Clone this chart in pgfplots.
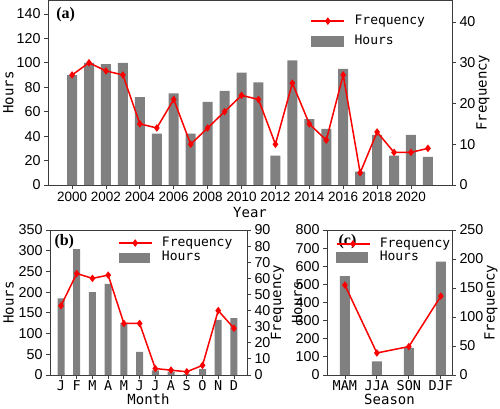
\documentclass[border=0pt]{standalone}
\usepackage{fontspec}
\setmainfont{DejaVu Sans Mono}
\newfontfamily\numfont{Liberation Sans}
\newfontfamily\tagfont{Liberation Serif}
\usepackage{pgfplots}
\pgfplotsset{compat=1.18}
\definecolor{bargray}{RGB}{128,128,128}
\definecolor{linered}{RGB}{250,0,0}
\definecolor{axgray}{RGB}{60,60,60}

\pgfplotstableread{
x h f
2000 90 27
2001 100 30
2002 99 28
2003 100 27
2004 72 15
2005 42 14
2006 75 21
2007 42 10
2008 68 14
2009 77 18
2010 92 22
2011 84 21
2012 24 10
2013 102 25
2014 54 15
2015 46 11
2016 95 27
2017 11 3
2018 41 13
2019 24 8
2020 41 8
2021 23 9
}\yeardata

\pgfplotstableread{
x h f
1 185 43
2 304 63
3 200 60
4 220 62
5 125 32
6 56 32
7 11 4
8 8 3
9 3 2
10 14 6
11 133 40
12 137 29
}\monthdata

\pgfplotstableread{
x h f
0 545 155
1 75 38
2 150 49
3 626 136
}\seasondata

\pgfplotsset{
  base/.style={
    scale only axis,
    axis line style={axgray, line width=0.8pt},
    tick style={axgray, line width=0.8pt},
    major tick length=4pt,
    tick align=outside,
    /pgf/number format/assume math mode=true,
    /pgf/number format/1000 sep={},
    yticklabel style={font=\fontsize{14.3}{14.3}\numfont},
    xticklabel style={font=\fontsize{13.5}{13.5}\numfont},
    label style={font=\fontsize{14}{14}\selectfont},
    scaled ticks=false,
  },
  leftax/.style={base, ytick pos=left, xtick pos=bottom},
  rightax/.style={base, hide x axis, axis y line*=right, ytick pos=right,
    legend style={draw=none, fill=none, inner sep=0pt, outer sep=0pt,
      font=\fontsize{13}{13}\selectfont, cells={anchor=west},
      nodes={inner sep=1.5pt, text height=9pt, text depth=2.5pt},
      /tikz/every odd column/.append style={column sep=8pt}}},
  barplot/.style={ybar, fill=bargray, draw=none},
  lineplot/.style={linered, line width=1.5pt, mark=diamond*, mark size=2.6pt,
    mark options={solid, fill=linered},
    legend image code/.code={\draw[##1, mark repeat=2, mark phase=2] plot coordinates {(0pt,0pt) (16.5pt,0pt) (33pt,0pt)};}},
}

\begin{document}
\begin{tikzpicture}
\useasboundingbox (0pt,0pt) rectangle (500pt,408pt);

% ---------- (a) ----------
\begin{axis}[leftax, at={(48pt,223pt)}, anchor=south west,
  width=404pt, height=185pt,
  xmin=1998.58, xmax=2022.42, ymin=0, ymax=151.5,
  xtick={2000,2002,...,2020}, ytick={0,20,...,140},
  xlabel={Year}, ylabel={Hours},
  xlabel style={at={(axis description cs:0.5,-0.146)}, anchor=center},
  ylabel style={at={(axis description cs:-0.098,0.5)}, anchor=center}]
\addplot[barplot, bar width=10pt] table[x=x,y=h] {\yeardata};
\node[anchor=north west, font=\fontsize{16}{16}\tagfont\bfseries] at (axis description cs:0.012,0.98) {(a)};
\end{axis}
\begin{axis}[rightax, at={(48pt,223pt)}, anchor=south west,
  width=404pt, height=185pt,
  xmin=1998.58, xmax=2022.42, ymin=0, ymax=45.4,
  ytick={0,10,...,40}, ylabel={Frequency},
  ylabel style={at={(axis description cs:1.077,0.5)}, anchor=center},
  legend style={at={(axis description cs:0.65,0.925)}, anchor=north west, row sep=6pt}]
\addplot[lineplot] table[x=x,y=f] {\yeardata};
\addlegendentry{Frequency}
\addlegendimage{legend image code/.code={\fill[bargray] (0pt,-5pt) rectangle (32pt,5pt);}}
\addlegendentry{Hours}
\end{axis}

% ---------- (b) ----------
\begin{axis}[leftax, at={(50pt,33pt)}, anchor=south west,
  width=197pt, height=145pt,
  xmin=0.3, xmax=12.83, ymin=0, ymax=350,
  xtick={1,...,12}, xticklabels={J,F,M,A,M,J,J,A,S,O,N,D},
  xticklabel style={font=\fontsize{13.5}{13.5}\selectfont, inner sep=1pt},
  ytick={0,50,...,350},
  xlabel={Month}, ylabel={Hours},
  xlabel style={at={(axis description cs:0.5,-0.168)}, anchor=center, inner sep=0pt},
  ylabel style={at={(axis description cs:-0.21,0.5)}, anchor=center}]
\addplot[barplot, bar width=7pt] table[x=x,y=h] {\monthdata};
\node[anchor=north west, font=\fontsize{16}{16}\tagfont\bfseries] at (axis description cs:0.005,0.995) {(b)};
\end{axis}
\begin{axis}[rightax, at={(50pt,33pt)}, anchor=south west,
  width=197pt, height=145pt,
  xmin=0.3, xmax=12.83, ymin=0, ymax=90,
  ytick={0,10,...,90}, ylabel={Frequency},
  ylabel style={at={(axis description cs:1.155,0.5)}, anchor=center},
  legend style={at={(axis description cs:0.345,0.96)}, anchor=north west, row sep=0pt}]
\addplot[lineplot] table[x=x,y=f] {\monthdata};
\addlegendentry{Frequency}
\addlegendimage{legend image code/.code={\fill[bargray] (0pt,-4.5pt) rectangle (30pt,4.5pt);}}
\addlegendentry{Hours}
\end{axis}

% ---------- (c) ----------
\begin{axis}[leftax, at={(327pt,33pt)}, anchor=south west,
  width=125pt, height=145pt,
  xmin=-0.56, xmax=3.35, ymin=0, ymax=800,
  xtick={0,1,2,3}, xticklabels={MAM,JJA,SON,DJF},
  xticklabel style={font=\fontsize{13.5}{13.5}\selectfont, inner sep=1pt},
  ytick={0,100,...,800},
  xlabel={Season}, ylabel={Hours},
  xlabel style={at={(axis description cs:0.5,-0.168)}, anchor=center, inner sep=0pt},
  ylabel style={at={(axis description cs:-0.24,0.5)}, anchor=center}]
\addplot[barplot, bar width=10pt] table[x=x,y=h] {\seasondata};
\node[anchor=north west, font=\fontsize{16}{16}\tagfont\bfseries] at (axis description cs:0.065,0.995) {(c)};
\end{axis}
\begin{axis}[rightax, at={(327pt,33pt)}, anchor=south west,
  width=125pt, height=145pt,
  xmin=-0.56, xmax=3.35, ymin=0, ymax=250,
  ytick={0,50,...,250}, ylabel={Frequency},
  ylabel style={at={(axis description cs:1.312,0.5)}, anchor=center},
  legend style={at={(axis description cs:0.07,0.955)}, anchor=north west, row sep=-1pt}]
\addplot[lineplot] table[x=x,y=f] {\seasondata};
\addlegendentry{Frequency}
\addlegendimage{legend image code/.code={\fill[bargray] (0pt,-5pt) rectangle (31pt,5pt);}}
\addlegendentry{Hours}
\end{axis}
\end{tikzpicture}
\end{document}
